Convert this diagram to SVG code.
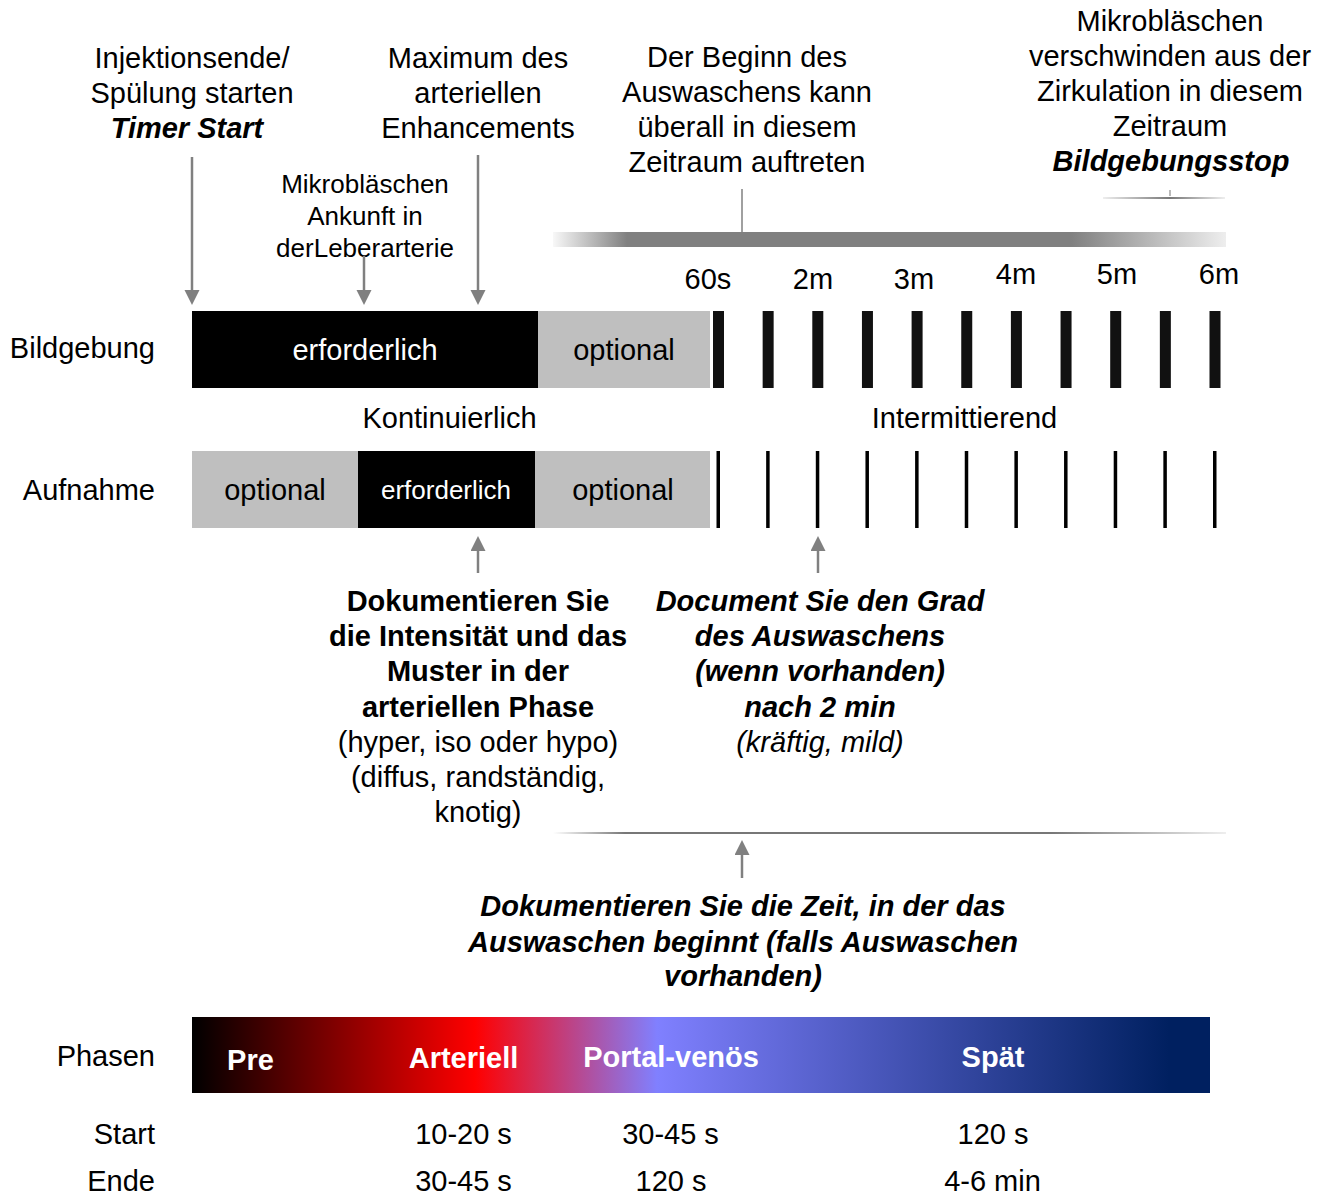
<svg xmlns="http://www.w3.org/2000/svg" width="1328" height="1196" viewBox="0 0 1328 1196">
<style>
text{font-family:"Liberation Sans",Arial,sans-serif;font-size:29px;fill:#000}
.c{text-anchor:middle}
.r{text-anchor:end}
.s{font-size:26px}
.b{font-weight:bold}
.i{font-style:italic}
.w{fill:#fff}
.arr{stroke:#808080;stroke-width:2.5;fill:none;marker-end:url(#ah)}
.tk{fill:#111}
.tl{fill:#000}
.req{fill:#000}
.opt{fill:#bfbfbf}
</style>
<defs>
<marker id="ah" markerUnits="userSpaceOnUse" markerWidth="16" markerHeight="16" refX="0" refY="7.5" orient="auto">
<path d="M0,0 L15,7.5 L0,15 z" fill="#808080"/>
</marker>
<linearGradient id="gtop" x1="0" y1="0" x2="1" y2="0">
<stop offset="0" stop-color="#f8f8f8"/>
<stop offset="0.11" stop-color="#808080"/>
<stop offset="0.77" stop-color="#808080"/>
<stop offset="1" stop-color="#eeeeee"/>
</linearGradient>
<linearGradient id="gmid" x1="0" y1="0" x2="1" y2="0">
<stop offset="0" stop-color="#ffffff"/>
<stop offset="0.107" stop-color="#777777"/>
<stop offset="0.74" stop-color="#777777"/>
<stop offset="1" stop-color="#eeeeee"/>
</linearGradient>
<linearGradient id="gsm" x1="0" y1="0" x2="1" y2="0">
<stop offset="0" stop-color="#eeeeee"/>
<stop offset="0.55" stop-color="#777777"/>
<stop offset="1" stop-color="#eeeeee"/>
</linearGradient>
<linearGradient id="gph" x1="0" y1="0" x2="1" y2="0">
<stop offset="0" stop-color="#000000"/>
<stop offset="0.278" stop-color="#ff0000"/>
<stop offset="0.457" stop-color="#8080ff"/>
<stop offset="0.96" stop-color="#002060"/>
<stop offset="1" stop-color="#002060"/>
</linearGradient>
</defs>

<g id="note-injektion">
<text class="c" x="192" y="68">Injektionsende/</text>
<text class="c" x="192" y="103">Spülung starten</text>
<text class="c b i" x="187" y="138">Timer Start</text>
</g>
<g id="note-ankunft">
<text class="c s" x="365" y="193">Mikrobläschen</text>
<text class="c s" x="365" y="225">Ankunft in</text>
<text class="c s" x="365" y="257">derLeberarterie</text>
</g>
<g id="note-maximum">
<text class="c" x="478" y="68">Maximum des</text>
<text class="c" x="478" y="103">arteriellen</text>
<text class="c" x="478" y="138">Enhancements</text>
</g>
<g id="note-beginn">
<text class="c" x="747" y="67">Der Beginn des</text>
<text class="c" x="747" y="102">Auswaschens kann</text>
<text class="c" x="747" y="137">überall in diesem</text>
<text class="c" x="747" y="172">Zeitraum auftreten</text>
</g>
<g id="note-stop">
<text class="c" x="1170" y="31">Mikrobläschen</text>
<text class="c" x="1170" y="66">verschwinden aus der</text>
<text class="c" x="1170" y="101">Zirkulation in diesem</text>
<text class="c" x="1170" y="136">Zeitraum</text>
<text class="c b i" x="1171" y="171">Bildgebungsstop</text>
<rect x="1103" y="197" width="122" height="2" fill="url(#gsm)"/>
<rect x="1169.5" y="190" width="1" height="6" fill="#777"/>
</g>
<g id="washout-range">
<rect x="553" y="232" width="673" height="15" fill="url(#gtop)"/>
</g>
<g id="time-labels">
<text class="c" x="708" y="289">60s</text>
<text class="c" x="813" y="289">2m</text>
<text class="c" x="914" y="289">3m</text>
<text class="c" x="1016" y="284">4m</text>
<text class="c" x="1117" y="284">5m</text>
<text class="c" x="1219" y="284">6m</text>
</g>

<g id="row-bildgebung">
<text class="r" x="155" y="358">Bildgebung</text>
<rect class="req" x="192" y="311" width="346" height="77"/>
<text class="c w" x="365" y="360">erforderlich</text>
<rect class="opt" x="538" y="311" width="172" height="77"/>
<text class="c" x="624" y="360">optional</text>
<rect class="tk" x="713" y="311" width="11" height="77"/>
<rect class="tk" x="762.65" y="311" width="11" height="77"/>
<rect class="tk" x="812.3" y="311" width="11" height="77"/>
<rect class="tk" x="861.95" y="311" width="11" height="77"/>
<rect class="tk" x="911.6" y="311" width="11" height="77"/>
<rect class="tk" x="961.25" y="311" width="11" height="77"/>
<rect class="tk" x="1010.9" y="311" width="11" height="77"/>
<rect class="tk" x="1060.55" y="311" width="11" height="77"/>
<rect class="tk" x="1110.2" y="311" width="11" height="77"/>
<rect class="tk" x="1159.85" y="311" width="11" height="77"/>
<rect class="tk" x="1209.5" y="311" width="11" height="77"/>
</g>
<g id="mode-labels">
<text class="c" x="449.5" y="428">Kontinuierlich</text>
<text class="c" x="964.5" y="428">Intermittierend</text>
</g>
<g id="row-aufnahme">
<text class="r" x="155" y="500">Aufnahme</text>
<rect class="opt" x="192" y="451" width="166" height="77"/>
<text class="c" x="275" y="500">optional</text>
<rect class="req" x="358" y="451" width="177" height="77"/>
<text class="c w s" x="446" y="499">erforderlich</text>
<rect class="opt" x="535" y="451" width="175" height="77"/>
<text class="c" x="623" y="500">optional</text>
<rect class="tl" x="716.5" y="451" width="3.5" height="77"/>
<rect class="tl" x="766.15" y="451" width="3.5" height="77"/>
<rect class="tl" x="815.8" y="451" width="3.5" height="77"/>
<rect class="tl" x="865.45" y="451" width="3.5" height="77"/>
<rect class="tl" x="915.1" y="451" width="3.5" height="77"/>
<rect class="tl" x="964.75" y="451" width="3.5" height="77"/>
<rect class="tl" x="1014.4" y="451" width="3.5" height="77"/>
<rect class="tl" x="1064.05" y="451" width="3.5" height="77"/>
<rect class="tl" x="1113.7" y="451" width="3.5" height="77"/>
<rect class="tl" x="1163.35" y="451" width="3.5" height="77"/>
<rect class="tl" x="1213" y="451" width="3.5" height="77"/>
</g>

<g id="note-arteriell">
<text class="c b" x="478" y="611">Dokumentieren Sie</text>
<text class="c b" x="478" y="646">die Intensität und das</text>
<text class="c b" x="478" y="681">Muster in der</text>
<text class="c b" x="478" y="717">arteriellen Phase</text>
<text class="c" x="478" y="752">(hyper, iso oder hypo)</text>
<text class="c" x="478" y="787">(diffus, randständig,</text>
<text class="c" x="478" y="822">knotig)</text>
</g>
<g id="note-grad">
<text class="c b i" x="820" y="611">Document Sie den Grad</text>
<text class="c b i" x="820" y="646">des Auswaschens</text>
<text class="c b i" x="820" y="681">(wenn vorhanden)</text>
<text class="c b i" x="820" y="717">nach 2 min</text>
<text class="c i" x="820" y="752">(kräftig, mild)</text>
</g>
<g id="washout-line">
<rect x="553" y="832" width="673" height="2" fill="url(#gmid)"/>
</g>
<g id="note-zeit">
<text class="c b i" x="743" y="916">Dokumentieren Sie die Zeit, in der das</text>
<text class="c b i" x="743" y="952">Auswaschen beginnt (falls Auswaschen</text>
<text class="c b i" x="743" y="986">vorhanden)</text>
</g>

<g id="phases">
<text class="r" x="155" y="1066">Phasen</text>
<rect x="192" y="1017" width="1018" height="76" fill="url(#gph)"/>
<text class="c b w" x="250.5" y="1070">Pre</text>
<text class="c b w" x="463.5" y="1068">Arteriell</text>
<text class="c b w" x="671" y="1067">Portal-venös</text>
<text class="c b w" x="993" y="1067">Spät</text>
</g>
<g id="start-row">
<text class="r" x="155" y="1144">Start</text>
<text class="c" x="463.5" y="1144">10-20 s</text>
<text class="c" x="670.5" y="1144">30-45 s</text>
<text class="c" x="993" y="1144">120 s</text>
</g>
<g id="end-row">
<text class="r" x="155" y="1191">Ende</text>
<text class="c" x="463.5" y="1191">30-45 s</text>
<text class="c" x="671" y="1191">120 s</text>
<text class="c" x="992.5" y="1191">4-6 min</text>
</g>

<g id="connectors">
<path class="arr" d="M192,157 V290"/>
<path class="arr" d="M364,256 V290"/>
<path class="arr" d="M478,155 V290"/>
<path class="arr" d="M478,573 V551"/>
<path class="arr" d="M818,573 V551"/>
<path class="arr" d="M742,878 V855"/>
<path d="M742,189 V232" stroke="#808080" stroke-width="1.5" fill="none"/>
</g>
</svg>
